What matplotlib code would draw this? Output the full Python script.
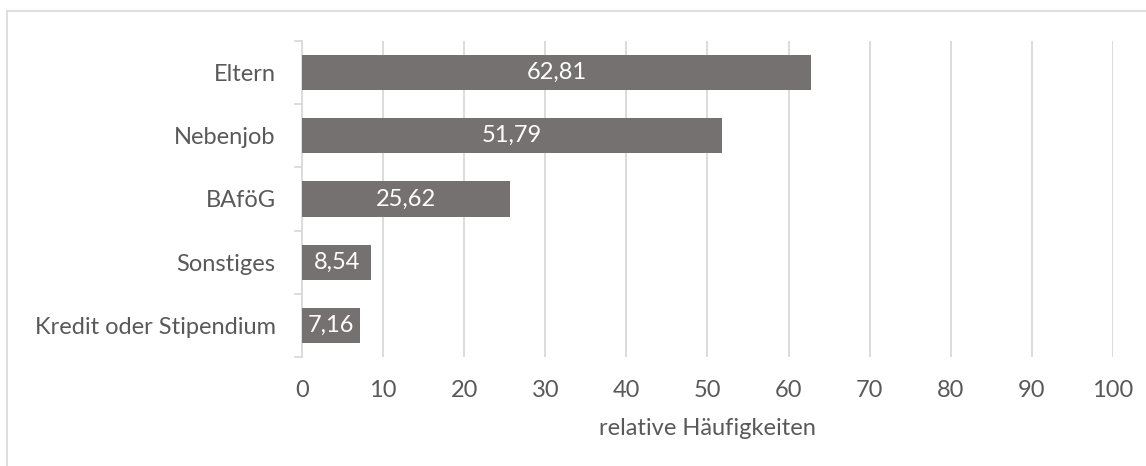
import matplotlib
matplotlib.use("Agg")
import matplotlib.pyplot as plt
from matplotlib.lines import Line2D

# Finanzierungsquellen (oben nach unten) und relative Haeufigkeiten in %
kategorien = ["Eltern", "Nebenjob", "BAföG", "Sonstiges", "Kredit oder Stipendium"]
werte = [62.81, 51.79, 25.62, 8.54, 7.16]
x_ticks = list(range(0, 101, 10))

TEXT = "#595959"
BALKEN = "#767171"
GITTER = "#d9d9d9"
FS = 17

plt.rcParams["font.family"] = ["Lato", "DejaVu Sans"]

fig = plt.figure(figsize=(11.46, 4.66), dpi=100)
ax = fig.add_axes([0.2635, 0.234, 0.7077, 0.678])

pos = list(range(len(kategorien)))[::-1]
balken = ax.barh(pos, werte, height=0.555, color=BALKEN, zorder=3)

for rect, w in zip(balken, werte):
    ax.text(rect.get_x() + rect.get_width() / 2, rect.get_y() + rect.get_height() / 2,
            ("%.2f" % w).replace(".", ","), ha="center", va="center",
            color="white", fontsize=FS, zorder=4)

ax.set_xlim(0, 100)
ax.set_ylim(-0.5, len(kategorien) - 0.5)
ax.set_xticks(x_ticks)
ax.set_xticklabels([str(t) for t in x_ticks])
ax.set_yticks(pos)
ax.set_yticklabels(kategorien)
ax.tick_params(axis="x", length=0, pad=16.5, labelsize=FS, labelcolor=TEXT)
ax.tick_params(axis="y", length=0, pad=19, labelsize=FS, labelcolor=TEXT)

# Trennstriche zwischen den Kategorien an der y-Achse
for b in [i - 0.5 for i in range(len(kategorien) + 1)]:
    ax.plot([-0.9, 0], [b, b], color=GITTER, lw=1.3, clip_on=False, zorder=2)

ax.grid(axis="x", color=GITTER, lw=1.3, zorder=0)
ax.xaxis.get_gridlines()[0].set_visible(False)
for s in ["top", "right", "bottom"]:
    ax.spines[s].set_visible(False)
ax.spines["left"].set_color(GITTER)
ax.spines["left"].set_linewidth(1.3)

ax.set_xlabel("relative Häufigkeiten", fontsize=FS, color=TEXT, labelpad=12)

# Rahmen des Diagrammbereichs (oben und links)
fig.add_artist(Line2D([7 / 1146, 1.0], [1 - 11 / 466, 1 - 11 / 466],
                      transform=fig.transFigure, color=GITTER, lw=1.2))
fig.add_artist(Line2D([7 / 1146, 7 / 1146], [0.0, 1 - 11 / 466],
                      transform=fig.transFigure, color=GITTER, lw=1.2))

fig.savefig("out.png", dpi=100)
